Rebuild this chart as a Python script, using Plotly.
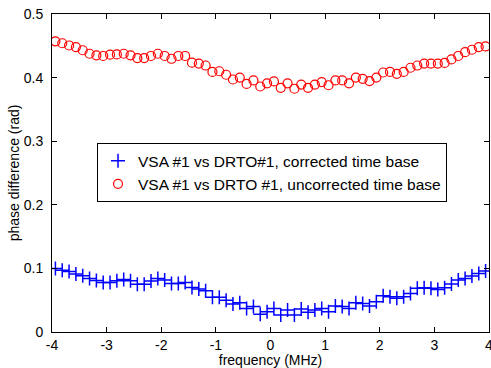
import plotly.graph_objects as go

freq_mhz = [-3.9375 + 0.125 * i for i in range(64)]

corrected = [0.100, 0.097, 0.095, 0.091, 0.0885, 0.084, 0.081, 0.078, 0.078, 0.0806,
             0.0827, 0.0806, 0.075, 0.075, 0.080, 0.084, 0.0816, 0.0764, 0.0764, 0.078,
             0.070, 0.0675, 0.065, 0.0545, 0.0545, 0.050, 0.044, 0.046, 0.037, 0.040,
             0.028, 0.032, 0.037, 0.0267, 0.0345, 0.0267, 0.036, 0.031, 0.0345, 0.037,
             0.032, 0.041, 0.040, 0.037, 0.046, 0.045, 0.041, 0.0476, 0.057, 0.0555,
             0.053, 0.0555, 0.0607, 0.0686, 0.0696, 0.0686, 0.067, 0.0696, 0.0754, 0.0816,
             0.084, 0.088, 0.092, 0.0958]

uncorrected = [0.457, 0.454, 0.4505, 0.448, 0.443, 0.4375, 0.435, 0.434, 0.436, 0.4364,
               0.4375, 0.435, 0.4307, 0.4307, 0.434, 0.4375, 0.434, 0.4296, 0.434, 0.434,
               0.4235, 0.422, 0.419, 0.409, 0.410, 0.4045, 0.397, 0.400, 0.390, 0.3956,
               0.386, 0.391, 0.394, 0.384, 0.391, 0.3825, 0.389, 0.384, 0.389, 0.393,
               0.388, 0.3956, 0.3956, 0.391, 0.400, 0.398, 0.3945, 0.400, 0.408, 0.409,
               0.406, 0.409, 0.4155, 0.419, 0.422, 0.422, 0.422, 0.423, 0.4286, 0.434,
               0.440, 0.4438, 0.448, 0.449]

x_ticks = [-4, -3, -2, -1, 0, 1, 2, 3, 4]
x_tick_labels = ["-4", "-3", "-2", "-1", "0", "1", "2", "3", "4"]
y_ticks = [0, 0.1, 0.2, 0.3, 0.4, 0.5]
y_tick_labels = ["0", "0.1", "0.2", "0.3", "0.4", "0.5"]

FONT = "Arial, Liberation Sans, sans-serif"

fig = go.Figure()
fig.add_trace(go.Scatter(
    x=freq_mhz, y=corrected, mode="markers",
    name="VSA #1 vs DRTO#1, corrected time base",
    marker=dict(symbol="cross-thin", size=10, color="#0000ff",
                line=dict(color="#0000ff", width=1.5)),
))
fig.add_trace(go.Scatter(
    x=freq_mhz, y=uncorrected, mode="markers",
    name="VSA #1 vs DRTO #1, uncorrected time base",
    marker=dict(symbol="circle-open", size=9, color="#ff0000",
                line=dict(color="#ff0000", width=1.2)),
))

axis_common = dict(
    showline=True, linecolor="#000000", linewidth=1, mirror="ticks",
    ticks="inside", ticklen=5, tickcolor="#000000",
    showgrid=False, zeroline=False, automargin=False,
    ticklabeloverflow="allow",
    tickfont=dict(family=FONT, size=14, color="#000000"),
)

fig.update_layout(
    width=491, height=368,
    margin=dict(l=52, r=2, t=14, b=36, autoexpand=False),
    paper_bgcolor="white", plot_bgcolor="white",
    font=dict(family=FONT, size=14, color="#000000"),
    xaxis=dict(range=[-4, 4], tickvals=x_ticks, ticktext=x_tick_labels,
               ticklabelstandoff=0,
               title=dict(text="frequency (MHz)", standoff=0,
                          font=dict(size=14)),
               **axis_common),
    yaxis=dict(range=[0, 0.5], tickvals=y_ticks, ticktext=y_tick_labels,
               ticklabelstandoff=5,
               title=dict(text="phase difference (rad)", standoff=0,
                          font=dict(size=14)),
               **axis_common),
    legend=dict(x=0.103, y=0.594, xanchor="left", yanchor="top",
                bgcolor="white", bordercolor="#000000", borderwidth=1,
                font=dict(size=15.5), tracegroupgap=0),
    showlegend=True,
)

fig.write_html("out.html", config={"displayModeBar": False},
               post_script="document.body.style.margin='0px';document.body.style.overflow='hidden';")
